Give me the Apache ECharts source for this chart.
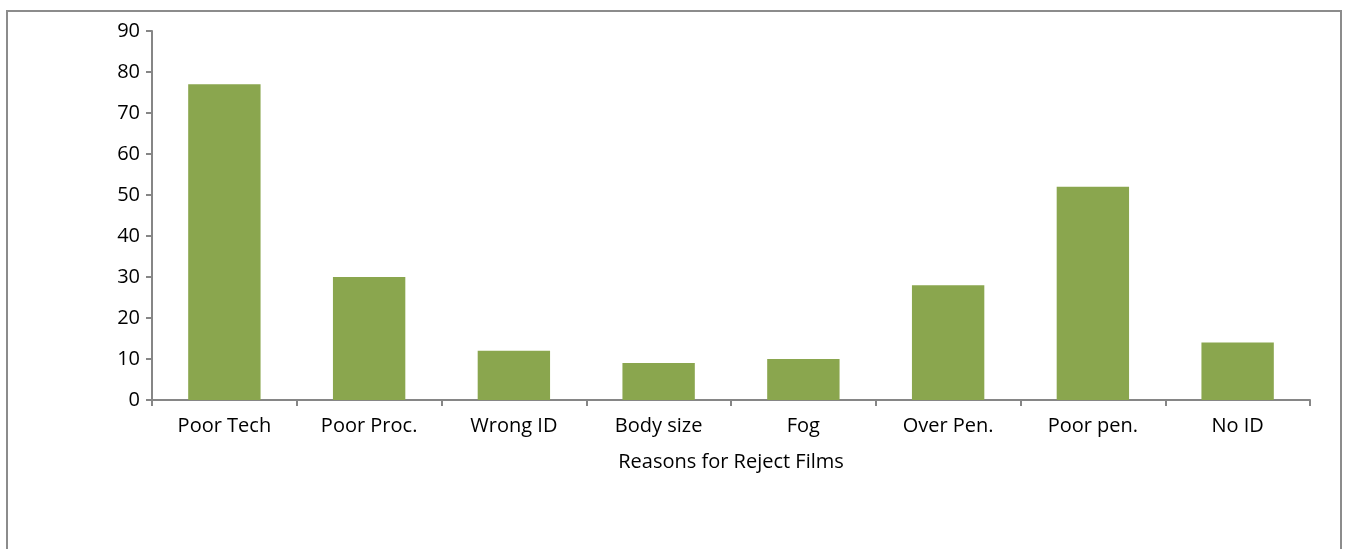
<!DOCTYPE html>
<html>
<head>
<meta charset="utf-8">
<script src="https://cdn.jsdelivr.net/npm/echarts@6/dist/echarts.min.js"></script>
<style>
  html, body { margin: 0; padding: 0; background: #fff; }
  #frame {
    position: absolute; left: 6px; top: 10px; width: 1336px; height: 560px;
    border: 2px solid #8c8c8c; box-sizing: border-box;
  }
  #chart { position: absolute; left: 0; top: 0; width: 1350px; height: 549px; }
</style>
</head>
<body>
<div id="frame"></div>
<div id="chart"></div>
<script>
"use strict";

var categories = ["Poor Tech", "Poor Proc.", "Wrong ID", "Body size", "Fog", "Over Pen.", "Poor pen.", "No ID"];
var rejectCounts = [77, 30, 12, 9, 10, 28, 52, 14];
var axisTitle = "Reasons for Reject Films";

var chart = echarts.init(document.getElementById("chart"));

chart.setOption({
  animation: false,
  grid: { left: 152, right: 40, top: 31, bottom: 149 },
  xAxis: {
    type: "category",
    data: categories,
    name: axisTitle,
    nameLocation: "middle",
    nameGap: 52,
    nameTextStyle: { color: "#000", fontSize: 20, fontFamily: "Open Sans" },
    axisLine: { lineStyle: { color: "#868686", width: 2 } },
    axisTick: { show: true, alignWithLabel: false, length: 6, lineStyle: { color: "#868686", width: 2 } },
    axisLabel: { color: "#000", fontSize: 20, fontFamily: "Open Sans", margin: 16 },
  },
  yAxis: {
    type: "value",
    min: 0,
    max: 90,
    interval: 10,
    axisLine: { show: true, lineStyle: { color: "#868686", width: 2 } },
    axisTick: { show: true, length: 6, lineStyle: { color: "#868686", width: 2 } },
    axisLabel: { color: "#000", fontSize: 20, fontFamily: "Open Sans", margin: 12 },
    splitLine: { show: false },
  },
  series: [
    {
      type: "bar",
      data: rejectCounts,
      barWidth: "50%",
      itemStyle: { color: "#8aa64e" },
    },
  ],
});
</script>
</body>
</html>
